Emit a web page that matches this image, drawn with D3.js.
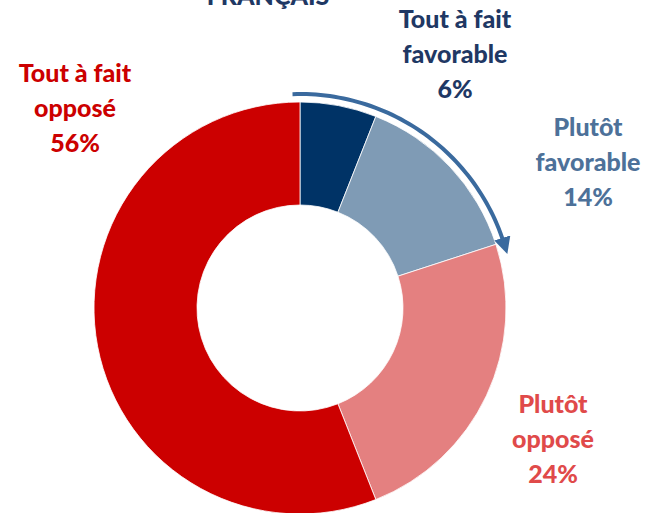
<!DOCTYPE html>
<html><head><meta charset="utf-8">
<script src="https://cdn.jsdelivr.net/npm/d3@7"></script>
<style>body{margin:0;background:#fff}svg{display:block}text{font-family:Lato,"Open Sans",sans-serif;font-weight:900}</style>
</head><body>
<svg id="c" width="648" height="513"></svg>
<script>
// Opinion shares, clockwise from 12 o'clock
const categories = ["Tout à fait favorable", "Plutôt favorable", "Plutôt opposé", "Tout à fait opposé"];
const values = [6, 14, 24, 56];
const colors = ["#003366", "#7f9bb5", "#e48080", "#cc0000"];
const labelColors = ["#1f3864", "#4d7199", "#e04a4a", "#cc0000"];
const labelLines = [["Tout à fait", "favorable", "6%"], ["Plutôt", "favorable", "14%"], ["Plutôt", "opposé", "24%"], ["Tout à fait", "opposé", "56%"]];
const labelPos = [[455, 28], [588, 136], [553, 413], [75, 82]];

const svg = d3.select("#c");
const cx = 300, cy = 308, rOuter = 206, rInner = 103;
const g = svg.append("g").attr("transform", `translate(${cx},${cy})`);

const pie = d3.pie().sort(null).value(d => d);
const arcs = pie(values);
const arc = d3.arc().innerRadius(rInner).outerRadius(rOuter);

g.selectAll("path.slice").data(arcs).join("path")
  .attr("class", "slice")
  .attr("d", arc)
  .attr("fill", (d, i) => colors[i])
  .attr("stroke", "#fff").attr("stroke-width", 0.8);

// Curved arrow over the favourable share
const favEnd = arcs[1].endAngle;
const arrowR = 214;
svg.append("defs").append("marker")
  .attr("id", "ah").attr("viewBox", "0 0 10 10").attr("refX", 5).attr("refY", 5)
  .attr("markerWidth", 4.2).attr("markerHeight", 4.2).attr("orient", "auto")
  .append("path").attr("d", "M0,0 L10,5 L0,10 Z").attr("fill", "#3a6a9e");
const start = -0.035, end = favEnd + 0.02;
const line = d3.lineRadial().curve(d3.curveLinear);
const pts = d3.range(0, 61).map(k => [start + (end - start) * k / 60, arrowR]);
g.append("path").attr("d", line(pts)).attr("fill", "none")
  .attr("stroke", "#3a6a9e").attr("stroke-width", 4).attr("marker-end", "url(#ah)");

// Labels
categories.forEach((c, i) => {
  const t = svg.append("text").attr("text-anchor", "middle").attr("fill", labelColors[i]).attr("font-size", 25);
  labelLines[i].forEach((s, j) => t.append("tspan").attr("x", labelPos[i][0]).attr("y", labelPos[i][1] + j * 35).text(s));
});

svg.append("text").attr("x", 268).attr("y", 5).attr("text-anchor", "middle")
  .attr("fill", "#1f3864").attr("font-size", 25).text("FRANÇAIS");
</script>
</body></html>
